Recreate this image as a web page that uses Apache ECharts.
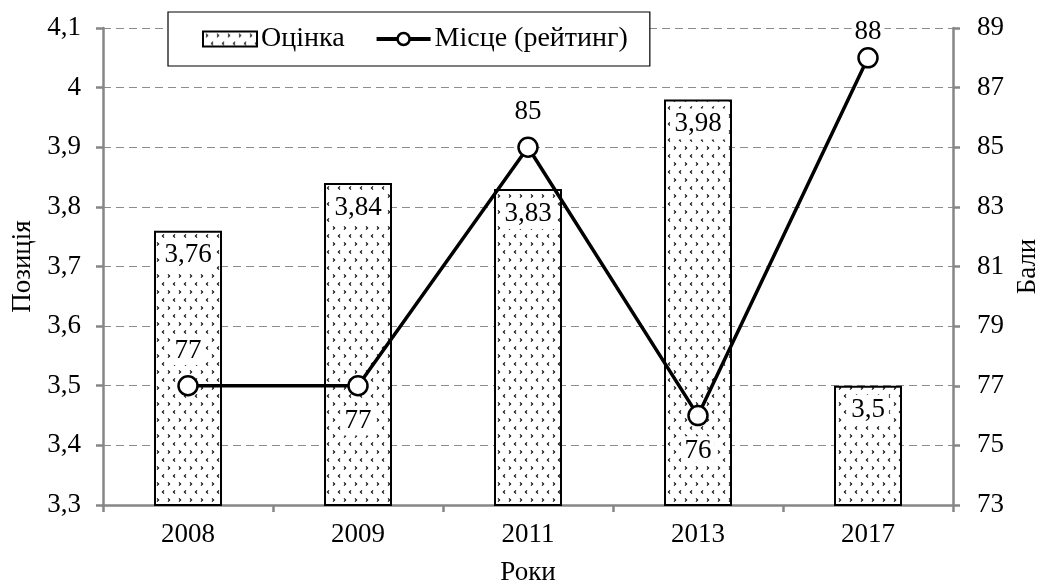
<!DOCTYPE html>
<html><head><meta charset="utf-8">
<script src="https://cdn.jsdelivr.net/npm/echarts@6/dist/echarts.min.js"></script>
<style>html,body{margin:0;padding:0;background:#fff}#c{width:1040px;height:587px}</style>
</head><body><div id="c"></div>
<script>
const years = ['2008','2009','2011','2013','2017'];
const scores = [3.76, 3.84, 3.83, 3.98, 3.5];
const places = [77, 77, 85, 76, 88];
const placeLabelPos = ['top','bottom','top','bottom','top'];
const placeLabelDist = [10, 10, 10, 10, 1];

function makePattern(){
  const c = document.createElement('canvas');
  c.width = 22; c.height = 16;
  const g = c.getContext('2d');
  g.fillStyle = '#fff'; g.fillRect(0,0,22,16);
  g.strokeStyle = '#111'; g.lineWidth = 1.2;
  function chev(x,y,d){ g.beginPath(); g.moveTo(x,y-1.6); g.lineTo(x+1.6*d,y); g.lineTo(x,y+1.6); g.stroke(); }
  chev(3,4,1); chev(14,4,1); chev(10,12,-1); chev(21,12,-1);
  return c;
}
const pat = makePattern();
const font = 'Liberation Serif';
const FS = 27;
const chart = echarts.init(document.getElementById('c'));
chart.setOption({
  animation:false,
  textStyle:{fontFamily:font, color:'#000'},
  grid:{left:103, right:87, top:28, bottom:82, outerBoundsMode:'none', containLabel:false},
  legend:{
    left:168, top:12, padding:[13,22,13,34], itemGap:30,
    borderColor:'#000', borderWidth:1.2, backgroundColor:'#fff',
    itemWidth:54, itemHeight:15,
    textStyle:{fontFamily:font, fontSize:28, color:'#000', padding:[0,0,0,-1]},
    data:[{name:'Оцінка', icon:'rect'},{name:'Місце (рейтинг)', lineStyle:{width:4}, itemStyle:{borderWidth:2.5}}]
  },
  xAxis:{
    type:'category', data:years,
    name:'Роки', nameLocation:'middle', nameGap:54,
    nameTextStyle:{fontFamily:font, fontSize:FS, color:'#000'},
    axisLine:{lineStyle:{color:'#868686', width:2.5}},
    axisTick:{show:true, length:7, lineStyle:{color:'#868686', width:2.5}},
    axisLabel:{fontFamily:font, fontSize:FS, color:'#000', margin:16}
  },
  yAxis:[{
    type:'value', min:3.3, max:4.1, interval:0.1,
    name:'Позиція', nameLocation:'middle', nameGap:66,
    nameTextStyle:{fontFamily:font, fontSize:FS, color:'#000'},
    axisLine:{show:true, lineStyle:{color:'#868686', width:2.5}},
    axisTick:{show:true, length:7, lineStyle:{color:'#868686', width:2.5}},
    axisLabel:{fontFamily:font, fontSize:FS, color:'#000', margin:22,
      formatter:v=>(Math.round(v*10)/10).toString().replace('.',',')},
    splitLine:{show:true, lineStyle:{color:'#8c8c8c', type:[8,5], width:1.2}}
  },{
    type:'value', min:73, max:89, interval:2,
    name:'Бали', nameLocation:'middle', nameGap:58,
    nameTextStyle:{fontFamily:font, fontSize:FS, color:'#000'},
    axisLine:{show:true, lineStyle:{color:'#868686', width:2.5}},
    axisTick:{show:true, length:7, lineStyle:{color:'#868686', width:2.5}},
    axisLabel:{fontFamily:font, fontSize:FS, color:'#000', margin:24},
    splitLine:{show:false}
  }],
  series:[{
    name:'Оцінка', type:'bar', yAxisIndex:0, barWidth:'40%',
    data:scores,
    itemStyle:{color:{image:pat, repeat:'repeat'}, borderColor:'#000', borderWidth:2},
    label:{show:true, position:'insideTop', distance:9, fontFamily:font, fontSize:FS, color:'#000',
      backgroundColor:'#fff', padding:[2,4],
      formatter:p=>String(p.value).replace('.',',')}
  },{
    name:'Місце (рейтинг)', type:'line', yAxisIndex:1,
    data:places.map((v,i)=>({value:v, label:{position:placeLabelPos[i], distance:placeLabelDist[i]}})),
    symbol:'circle', symbolSize:19,
    lineStyle:{color:'#000', width:3.5},
    itemStyle:{color:'#fff', borderColor:'#000', borderWidth:2.5},
    label:{show:true, fontFamily:font, fontSize:FS, color:'#000', backgroundColor:'#fff', padding:[1,3]},
    z:5
  }]
});
</script></body></html>
